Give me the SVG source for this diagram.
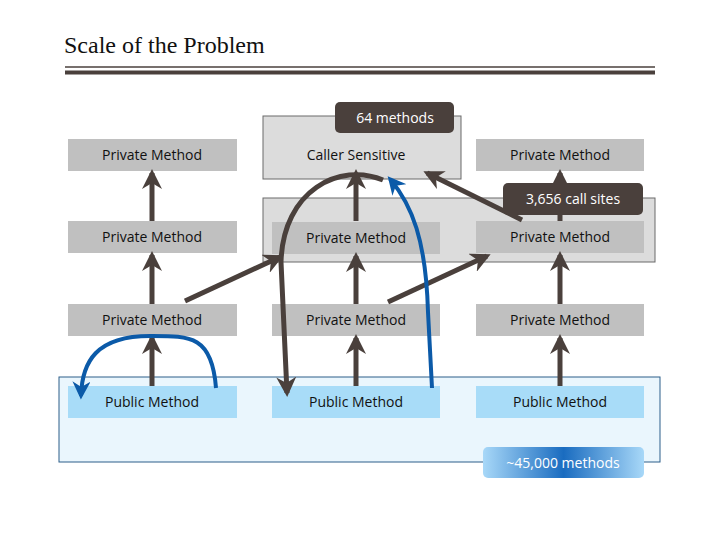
<svg xmlns="http://www.w3.org/2000/svg" width="720" height="540" viewBox="0 0 720 540">
<defs>
<style>
.t{font-family:"Open Sans","Liberation Sans",sans-serif;font-size:14px;fill:#111;text-anchor:middle}
.pv{fill:#c0c0c0}
.pb{fill:#a8dcf8}
.a{stroke:#4a403c;stroke-width:5;fill:none;marker-end:url(#ha)}
.b{stroke:#0b5aa8;stroke-width:4;fill:none;marker-end:url(#hb)}
.lbl{font-family:"Open Sans","Liberation Sans",sans-serif;font-size:14px;fill:#fff;text-anchor:middle}
</style>
<marker id="ha" viewBox="0 0 10 10" refX="8" refY="5" markerWidth="4" markerHeight="4" orient="auto"><path d="M0 0L10 5L0 10L3 5Z" fill="#4a403c"/></marker>
<marker id="hb" viewBox="0 0 10 10" refX="8" refY="5" markerWidth="4.5" markerHeight="4.5" orient="auto"><path d="M0 0L10 5L0 10L3 5Z" fill="#0b5aa8"/></marker>
<linearGradient id="g" x1="0" x2="1"><stop offset="0" stop-color="#a8d8f8"/><stop offset="0.5" stop-color="#1a6cc0"/><stop offset="1" stop-color="#a8d8f8"/></linearGradient>
</defs>
<rect width="720" height="540" fill="#fff"/>
<text x="64" y="53" font-family="Liberation Serif,serif" font-size="24" fill="#111">Scale of the Problem</text>
<line x1="65" y1="67" x2="655" y2="67" stroke="#4a403c" stroke-width="1.5"/>
<line x1="65" y1="72.5" x2="655" y2="72.5" stroke="#4a403c" stroke-width="4"/>
<g id="containers">
<rect x="263" y="116" width="198" height="63" fill="#dcdcdc" stroke="#6a6a6a"/>
<rect x="263" y="198" width="392" height="64" fill="#dcdcdc" stroke="#6a6a6a"/>
<rect x="59" y="377" width="601" height="85" fill="#eaf6fd" stroke="#2c5f8a"/>
</g>
<g id="n1"><rect class="pv" x="68" y="139" width="169" height="32"/><text class="t" x="152" y="160">Private Method</text></g>
<g id="n2"><text class="t" x="356" y="160">Caller Sensitive</text></g>
<g id="n3"><rect class="pv" x="476" y="139" width="168" height="32"/><text class="t" x="560" y="160">Private Method</text></g>
<g id="n4"><rect class="pv" x="68" y="221" width="169" height="32"/><text class="t" x="152" y="242">Private Method</text></g>
<g id="n5"><rect class="pv" x="272" y="222" width="168" height="32"/><text class="t" x="356" y="243">Private Method</text></g>
<g id="n6"><rect class="pv" x="476" y="221" width="168" height="32"/><text class="t" x="560" y="242">Private Method</text></g>
<g id="n7"><rect class="pv" x="68" y="304" width="169" height="32"/><text class="t" x="152" y="325">Private Method</text></g>
<g id="n8"><rect class="pv" x="272" y="304" width="168" height="32"/><text class="t" x="356" y="325">Private Method</text></g>
<g id="n9"><rect class="pv" x="476" y="304" width="168" height="32"/><text class="t" x="560" y="325">Private Method</text></g>
<g id="n10"><rect class="pb" x="68" y="386" width="169" height="32"/><text class="t" x="152" y="407">Public Method</text></g>
<g id="n11"><rect class="pb" x="272" y="386" width="168" height="32"/><text class="t" x="356" y="407">Public Method</text></g>
<g id="n12"><rect class="pb" x="476" y="386" width="168" height="32"/><text class="t" x="560" y="407">Public Method</text></g>
<g id="connectors">
<path class="a" d="M152 221V173"/><path class="a" d="M152 304V255"/><path class="a" d="M152 386V338"/>
<path class="a" d="M356 221V173"/><path class="a" d="M356 304V256"/><path class="a" d="M356 386V338"/>
<path class="a" d="M560 221V173"/><path class="a" d="M560 304V255"/><path class="a" d="M560 386V338"/>
<path class="a" d="M185 301L280 257"/>
<path class="a" d="M388 302L487 256"/>
<path class="a" d="M522 220L427 173"/>
<path class="a" d="M383 180C340 162 283 190 281 262L287 393"/>
<path class="b" d="M432 388L428 312C426 240 412 205 390 179"/>
<path class="b" d="M216 388C212 335 190 336 150 336C96 336 82 362 81 396"/>
</g>
<g id="labels">
<rect x="335" y="102" width="119" height="31" rx="5" fill="#4a403c"/><text class="lbl" x="395" y="123">64 methods</text>
<rect x="503" y="183" width="140" height="32" rx="5" fill="#4a403c"/><text class="lbl" x="573" y="204">3,656 call sites</text>
<rect x="483" y="447" width="161" height="31" rx="5" fill="url(#g)"/><text class="lbl" x="563" y="468">~45,000 methods</text>
</g>
</svg>
